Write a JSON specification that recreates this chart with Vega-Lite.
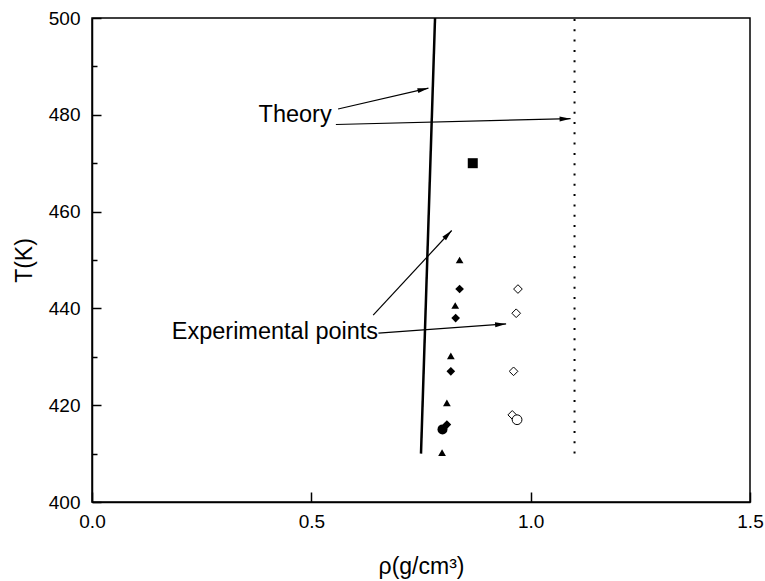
{
  "$schema": "https://vega.github.io/schema/vega-lite/v6.json",
  "width": 658,
  "height": 484,
  "autosize": {"type": "none"},
  "padding": {"left": 92, "top": 18, "right": 15, "bottom": 79},
  "background": "white",
  "config": {
    "view": {"stroke": "black", "strokeWidth": 1.5},
    "font": "Liberation Sans"
  },
  "datasets": {
    "theory": [
      {"line": "solid", "rho": 0.75, "T": 410},
      {"line": "solid", "rho": 0.782, "T": 500}
    ],
    "dotted": [
      {"line": "dotted", "rho": 1.1, "T": 410},
      {"line": "dotted", "rho": 1.1, "T": 500}
    ],
    "points": [
      {"series": "tri", "rho": 0.838, "T": 450},
      {"series": "tri", "rho": 0.828, "T": 440.6},
      {"series": "tri", "rho": 0.818, "T": 430.2},
      {"series": "tri", "rho": 0.809, "T": 420.5},
      {"series": "tri", "rho": 0.798, "T": 410.2},
      {"series": "fdia", "rho": 0.838, "T": 444},
      {"series": "fdia", "rho": 0.829, "T": 438},
      {"series": "fdia", "rho": 0.818, "T": 427},
      {"series": "fdia", "rho": 0.809, "T": 416},
      {"series": "fcirc", "rho": 0.799, "T": 415},
      {"series": "odia", "rho": 0.971, "T": 444},
      {"series": "odia", "rho": 0.967, "T": 439},
      {"series": "odia", "rho": 0.961, "T": 427},
      {"series": "odia", "rho": 0.958, "T": 418},
      {"series": "ocirc", "rho": 0.969, "T": 417},
      {"series": "sq", "rho": 0.868, "T": 470}
    ],
    "arrows": [
      {"id": "t1", "rho": 0.561, "T": 481.2, "rho2": 0.767, "T2": 485.5},
      {"id": "t2", "rho": 0.556, "T": 478.0, "rho2": 1.091, "T2": 479.2},
      {"id": "e1", "rho": 0.641, "T": 438.6, "rho2": 0.820, "T2": 456.1},
      {"id": "e2", "rho": 0.653, "T": 434.9, "rho2": 0.944, "T2": 436.8}
    ],
    "labels": [
      {"text": "Theory", "rho": 0.463, "T": 480.0},
      {"text": "Experimental points", "rho": 0.417, "T": 435.2}
    ]
  },
  "layer": [
    {
      "data": {"name": "theory"},
      "mark": {"type": "line", "color": "black", "strokeWidth": 2.5},
      "encoding": {
        "x": {
          "field": "rho", "type": "quantitative",
          "scale": {"domain": [0, 1.5], "nice": false, "zero": false},
          "axis": {
            "values": [0, 0.5, 1, 1.5], "format": ".1f",
            "tickSize": -10, "tickColor": "black", "tickWidth": 1.5,
            "domainColor": "black", "domainWidth": 1.5,
            "labelFontSize": 19, "labelColor": "black", "labelPadding": 20,
            "labelFlush": false,
            "title": "ρ(g/cm³)", "titleFontSize": 23, "titleFontWeight": "normal",
            "titleColor": "black", "titlePadding": 24, "grid": false
          }
        },
        "y": {
          "field": "T", "type": "quantitative",
          "scale": {"domain": [400, 500], "nice": false, "zero": false},
          "axis": {
            "values": [400, 410, 420, 430, 440, 450, 460, 470, 480, 490, 500],
            "labelExpr": "datum.value % 20 === 0 ? datum.label : ''",
            "tickSize": {"condition": {"test": "datum.value % 20 === 0", "value": -9}, "value": -5},
            "tickColor": "black", "tickWidth": 1.5,
            "domainColor": "black", "domainWidth": 1.5,
            "labelFontSize": 19, "labelColor": "black", "labelPadding": 21,
            "labelFlush": false,
            "title": "T(K)", "titleFontSize": 23, "titleFontWeight": "normal",
            "titleColor": "black", "titlePadding": 12, "grid": false
          }
        }
      }
    },
    {
      "data": {"name": "dotted"},
      "mark": {"type": "line", "color": "black", "strokeWidth": 2, "strokeDash": [2, 8.3]},
      "encoding": {
        "x": {"field": "rho", "type": "quantitative"},
        "y": {"field": "T", "type": "quantitative"}
      }
    },
    {
      "data": {"name": "points"},
      "transform": [{"filter": "datum.series === 'tri'"}],
      "mark": {"type": "point", "shape": "triangle-up", "filled": true, "color": "black", "size": 60, "opacity": 1},
      "encoding": {
        "x": {"field": "rho", "type": "quantitative"},
        "y": {"field": "T", "type": "quantitative"}
      }
    },
    {
      "data": {"name": "points"},
      "transform": [{"filter": "datum.series === 'fdia'"}],
      "mark": {"type": "point", "shape": "diamond", "filled": true, "color": "black", "size": 75, "opacity": 1},
      "encoding": {
        "x": {"field": "rho", "type": "quantitative"},
        "y": {"field": "T", "type": "quantitative"}
      }
    },
    {
      "data": {"name": "points"},
      "transform": [{"filter": "datum.series === 'fcirc'"}],
      "mark": {"type": "point", "shape": "circle", "filled": true, "color": "black", "size": 100, "opacity": 1},
      "encoding": {
        "x": {"field": "rho", "type": "quantitative"},
        "y": {"field": "T", "type": "quantitative"}
      }
    },
    {
      "data": {"name": "points"},
      "transform": [{"filter": "datum.series === 'odia'"}],
      "mark": {"type": "point", "shape": "diamond", "filled": false, "fill": "white", "stroke": "black", "strokeWidth": 1, "size": 75, "opacity": 1},
      "encoding": {
        "x": {"field": "rho", "type": "quantitative"},
        "y": {"field": "T", "type": "quantitative"}
      }
    },
    {
      "data": {"name": "points"},
      "transform": [{"filter": "datum.series === 'ocirc'"}],
      "mark": {"type": "point", "shape": "circle", "filled": false, "fill": "white", "stroke": "black", "strokeWidth": 1, "size": 95, "opacity": 1},
      "encoding": {
        "x": {"field": "rho", "type": "quantitative"},
        "y": {"field": "T", "type": "quantitative"}
      }
    },
    {
      "data": {"name": "points"},
      "transform": [{"filter": "datum.series === 'sq'"}],
      "mark": {"type": "point", "shape": "square", "filled": true, "color": "black", "size": 100, "opacity": 1},
      "encoding": {
        "x": {"field": "rho", "type": "quantitative"},
        "y": {"field": "T", "type": "quantitative"}
      }
    },
    {
      "data": {"name": "arrows"},
      "mark": {"type": "rule", "color": "black", "strokeWidth": 1.2},
      "encoding": {
        "x": {"field": "rho", "type": "quantitative"},
        "y": {"field": "T", "type": "quantitative"},
        "x2": {"field": "rho2"},
        "y2": {"field": "T2"}
      }
    },
    {
      "data": {"name": "arrows"},
      "transform": [{"filter": "datum.id === 't1'"}],
      "mark": {"type": "point", "shape": "M0,0L-2,-0.45L-2,0.45Z", "filled": true, "color": "black", "size": 121, "opacity": 1, "angle": 347},
      "encoding": {
        "x": {"field": "rho2", "type": "quantitative"},
        "y": {"field": "T2", "type": "quantitative"}
      }
    },
    {
      "data": {"name": "arrows"},
      "transform": [{"filter": "datum.id === 't2'"}],
      "mark": {"type": "point", "shape": "M0,0L-2,-0.45L-2,0.45Z", "filled": true, "color": "black", "size": 121, "opacity": 1, "angle": 358.6},
      "encoding": {
        "x": {"field": "rho2", "type": "quantitative"},
        "y": {"field": "T2", "type": "quantitative"}
      }
    },
    {
      "data": {"name": "arrows"},
      "transform": [{"filter": "datum.id === 'e1'"}],
      "mark": {"type": "point", "shape": "M0,0L-2,-0.45L-2,0.45Z", "filled": true, "color": "black", "size": 121, "opacity": 1, "angle": 312.9},
      "encoding": {
        "x": {"field": "rho2", "type": "quantitative"},
        "y": {"field": "T2", "type": "quantitative"}
      }
    },
    {
      "data": {"name": "arrows"},
      "transform": [{"filter": "datum.id === 'e2'"}],
      "mark": {"type": "point", "shape": "M0,0L-2,-0.45L-2,0.45Z", "filled": true, "color": "black", "size": 121, "opacity": 1, "angle": 355.8},
      "encoding": {
        "x": {"field": "rho2", "type": "quantitative"},
        "y": {"field": "T2", "type": "quantitative"}
      }
    },
    {
      "data": {"name": "labels"},
      "mark": {"type": "text", "fontSize": 23.5, "color": "black", "align": "center", "baseline": "middle", "font": "Liberation Sans"},
      "encoding": {
        "x": {"field": "rho", "type": "quantitative"},
        "y": {"field": "T", "type": "quantitative"},
        "text": {"field": "text"}
      }
    }
  ]
}
